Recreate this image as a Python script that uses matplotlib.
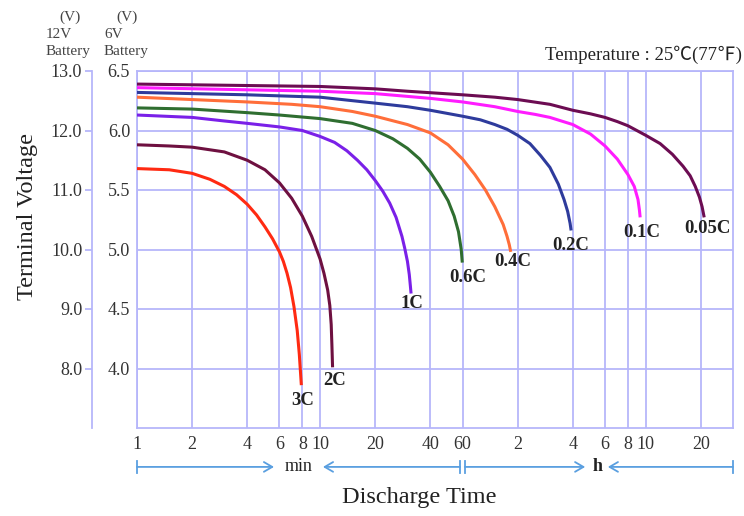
import matplotlib
matplotlib.use("Agg")
import matplotlib.pyplot as plt
from matplotlib.ticker import NullLocator

# discharge time (minutes) and terminal voltage on the 6V scale
t_3c = [1, 1.5, 2, 2.5, 3, 3.5, 4, 4.5, 5, 5.5, 6, 6.3, 6.6, 6.9, 7.2, 7.5, 7.7, 7.9]
v_3c = [5.68, 5.67, 5.64, 5.59, 5.53, 5.46, 5.38, 5.29, 5.19, 5.09, 4.98, 4.90,
        4.80, 4.68, 4.52, 4.32, 4.12, 3.86]

t_2c = [1, 1.5, 2, 3, 4, 5, 6, 7, 8, 9, 10, 10.5, 11, 11.3, 11.5, 11.6, 11.7]
v_2c = [5.88, 5.87, 5.86, 5.82, 5.75, 5.67, 5.56, 5.43, 5.28, 5.11, 4.92, 4.80,
        4.66, 4.53, 4.37, 4.20, 4.01]

t_1c = [1, 2, 3, 4, 6, 8, 10, 12, 14, 16, 18, 20, 22, 24, 26, 28, 29, 30, 30.7,
        31.1, 31.4]
v_1c = [6.13, 6.11, 6.08, 6.06, 6.03, 6.00, 5.95, 5.90, 5.83, 5.75, 5.67, 5.58,
        5.49, 5.39, 5.27, 5.11, 5.01, 4.90, 4.79, 4.70, 4.63]

t_06c = [1, 2, 4, 6, 10, 15, 20, 25, 30, 35, 40, 45, 50, 54, 57, 59, 59.8]
v_06c = [6.19, 6.18, 6.15, 6.13, 6.10, 6.06, 6.00, 5.93, 5.85, 5.76, 5.65, 5.53,
         5.41, 5.28, 5.15, 5.00, 4.89]

t_04c = [1, 2, 4, 7, 10, 15, 20, 30, 40, 50, 60, 70, 80, 90, 100, 105, 108, 110]
v_04c = [6.28, 6.26, 6.24, 6.22, 6.20, 6.16, 6.12, 6.05, 5.98, 5.88, 5.76, 5.63,
         5.50, 5.36, 5.21, 5.11, 5.04, 4.98]

t_02c = [1, 4, 10, 20, 30, 40, 60, 75, 90, 105, 120, 140, 160, 180, 200, 215,
         225, 232, 235]
v_02c = [6.32, 6.30, 6.28, 6.23, 6.20, 6.17, 6.12, 6.09, 6.05, 6.01, 5.96, 5.89,
         5.79, 5.69, 5.55, 5.42, 5.32, 5.22, 5.16]

t_01c = [1, 10, 20, 40, 60, 90, 120, 150, 180, 240, 300, 360, 420, 480, 520,
         545, 555, 560]
v_01c = [6.36, 6.33, 6.31, 6.27, 6.24, 6.20, 6.16, 6.135, 6.11, 6.05, 5.97, 5.87,
         5.76, 5.63, 5.53, 5.42, 5.33, 5.27]

t_005c = [1, 10, 20, 30, 60, 90, 120, 180, 240, 300, 360, 420, 480, 600, 720,
          840, 960, 1050, 1120, 1180, 1220, 1253]
v_005c = [6.39, 6.37, 6.35, 6.33, 6.30, 6.28, 6.26, 6.22, 6.17, 6.14, 6.11, 6.075,
          6.04, 5.96, 5.89, 5.80, 5.70, 5.62, 5.53, 5.44, 5.36, 5.27]

rates = ["3C", "2C", "1C", "0.6C", "0.4C", "0.2C", "0.1C", "0.05C"]
times = [t_3c, t_2c, t_1c, t_06c, t_04c, t_02c, t_01c, t_005c]
volts = [v_3c, v_2c, v_1c, v_06c, v_04c, v_02c, v_01c, v_005c]

x_ticks = [1, 2, 4, 6, 8, 10, 20, 40, 60, 120, 240, 360, 480, 600, 1200]
x_labels = ["1", "2", "4", "6", "8", "10", "20", "40", "60",
            "2", "4", "6", "8", "10", "20"]
y6_ticks = [4.0, 4.5, 5.0, 5.5, 6.0, 6.5]
y12_ticks = [8.0, 9.0, 10.0, 11.0, 12.0, 13.0]

colors = ["#ff2a12", "#6e1040", "#7a20e8", "#2f6e30",
          "#ff6e3a", "#2e3b9c", "#ff1cff", "#6c0c52"]
# label offset from the curve end, in pixels
label_offsets = [(1, -15), (2, -13), (1, -10), (5, -15),
                 (2, -10), (0, -15), (2, -15), (3, -11)]

GRID = "#b6b6fa"
ARROW = "#5a9fe0"
TXT = "#333333"
SERIF = ["Liberation Serif", "DejaVu Serif"]

fig = plt.figure(figsize=(7.44, 5.16), dpi=100)
ax = fig.add_axes([137 / 744, 88 / 516, 596 / 744, 357 / 516])

for rate, t, v, c, off in zip(rates, times, volts, colors, label_offsets):
    ax.plot(t, v, color=c, lw=2.2, solid_capstyle="butt",
            solid_joinstyle="round", zorder=3)
    ax.annotate(rate, (t[-1], v[-1]), xytext=off, textcoords="offset pixels",
                ha="center", va="center", fontsize=13.5, fontweight="bold",
                family=SERIF, color="#222222")

ax.set_xscale("log")
ax.set_xlim(1, 1800)
ax.set_ylim(3.5, 6.5)
ax.set_xticks(x_ticks)
ax.set_xticklabels(x_labels)
ax.xaxis.set_minor_locator(NullLocator())
ax.set_yticks(y6_ticks)
ax.set_yticklabels([f"{y:.1f}" for y in y6_ticks])
ax.tick_params(axis="both", length=0, labelsize=13, labelcolor=TXT)
ax.tick_params(axis="x", pad=6)
ax.tick_params(axis="y", pad=5)
for lab in ax.get_xticklabels() + ax.get_yticklabels():
    lab.set_family(SERIF)
ax.grid(True, color=GRID, lw=1.3, zorder=0)
for sp in ax.spines.values():
    sp.set_color(GRID)
    sp.set_linewidth(1.3)

# 12V scale on a second spine further left
ax12 = ax.twinx()
ax12.set_ylim(7.0, 13.0)
ax12.yaxis.tick_left()
ax12.spines["left"].set_position(("axes", -45 / 596))
ax12.spines["left"].set_visible(True)
ax12.spines["left"].set_color(GRID)
ax12.spines["left"].set_linewidth(1.3)
for s in ["right", "top", "bottom"]:
    ax12.spines[s].set_visible(False)
ax12.set_yticks(y12_ticks)
ax12.set_yticklabels([f"{y:.1f}" for y in y12_ticks])
ax12.tick_params(axis="y", length=5, width=1.3, color=GRID, pad=2,
                 labelsize=13, labelcolor=TXT)
for lab in ax12.get_yticklabels():
    lab.set_family(SERIF)

# header texts above the two voltage scales
hdr = dict(fontsize=11, family=SERIF, color="#444444", va="center")
fig.text(70 / 744, 1 - 17 / 516, "(V)", ha="center", **hdr)
fig.text(46 / 744, 1 - 35 / 516, "12V", ha="left", **hdr)
fig.text(46 / 744, 1 - 51 / 516, "Battery", ha="left", **hdr)
fig.text(127 / 744, 1 - 17 / 516, "(V)", ha="center", **hdr)
fig.text(104 / 744, 1 - 35 / 516, "6V", ha="left", **hdr)
fig.text(104 / 744, 1 - 51 / 516, "Battery", ha="left", **hdr)

fig.text(742 / 744, 1 - 55 / 516, "Temperature : 25℃(77℉)", ha="right",
         va="center", fontsize=13.5, color="#222222",
         family=["Liberation Serif", "Noto Sans CJK JP"])

fig.text(28 / 744, 1 - 216 / 516, "Terminal Voltage", rotation=90,
         ha="center", va="center", fontsize=17.5, family=SERIF, color="#222222")
fig.text(419 / 744, 1 - 497 / 516, "Discharge Time", ha="center",
         va="center", fontsize=17.5, family=SERIF, color="#222222")

# min / h ranges under the axis
ya = -0.109
kw = dict(xycoords="axes fraction", textcoords="axes fraction",
          arrowprops=dict(arrowstyle="->,head_length=0.6,head_width=0.35",
                          color=ARROW, lw=1.3, shrinkA=0, shrinkB=0))
ax.annotate("", xy=(0.2299, ya), xytext=(0.0, ya), **kw)
ax.annotate("", xy=(0.312, ya), xytext=(0.542, ya), **kw)
ax.annotate("", xy=(0.752, ya), xytext=(0.550, ya), **kw)
ax.annotate("", xy=(0.790, ya), xytext=(1.0, ya), **kw)
for xf in [0.0, 0.542, 0.550, 1.0]:
    ax.plot([xf, xf], [ya - 0.016, ya + 0.016], color=ARROW, lw=1.3,
            transform=ax.transAxes, clip_on=False)
ax.text(0.271, ya, "min", transform=ax.transAxes, ha="center", va="center",
        fontsize=13, family=SERIF, color="#222222")
ax.text(0.772, ya, "h", transform=ax.transAxes, ha="center", va="center",
        fontsize=13, family=SERIF, color="#222222", fontweight="bold")

fig.savefig("out.png", dpi=100)
plt.close(fig)
